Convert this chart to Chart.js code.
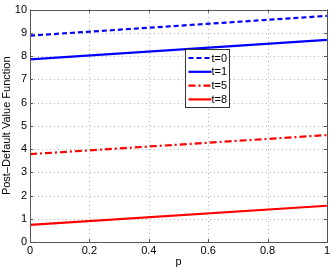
<!DOCTYPE html>
<html><head><meta charset="utf-8">
<script src="https://cdn.jsdelivr.net/npm/chart.js@4.4.1/dist/chart.umd.min.js"></script>
<style>html,body{margin:0;padding:0;background:#fff;}canvas{display:block;}</style>
</head><body>
<canvas id="c" width="332" height="269"></canvas>
<script>
const pValues = [0, 1];
const seriesNames = ['t=0', 't=1', 't=5', 't=8'];
const t0 = [8.88, 9.73];
const t1 = [7.86, 8.70];
const t5 = [3.78, 4.60];
const t8 = [0.74, 1.56];
const xTicks = [0, 0.2, 0.4, 0.6, 0.8, 1];
const yTicks = [0, 1, 2, 3, 4, 5, 6, 7, 8, 9, 10];

const FONT = "'Liberation Sans', Arial, sans-serif";
const toXY = arr => pValues.map((p, i) => ({x: p, y: arr[i]}));

const styles = [
  {color: '#0000ff', dash: [5, 3]},
  {color: '#0000ff', dash: []},
  {color: '#ff0000', dash: [7, 3, 2, 3]},
  {color: '#ff0000', dash: []}
];
const allData = [t0, t1, t5, t8];

const datasets = allData.map((d, i) => ({
  label: seriesNames[i],
  data: toXY(d),
  borderColor: styles[i].color,
  borderDash: styles[i].dash,
  borderWidth: 2.2,
  pointRadius: 0,
  fill: false,
  tension: 0
}));

const gridPlugin = {
  id: 'dottedGrid',
  beforeDatasetsDraw(chart) {
    const ctx = chart.ctx, a = chart.chartArea;
    const xs = chart.scales.x, ys = chart.scales.y;
    ctx.save();
    ctx.strokeStyle = '#b4b4b4';
    ctx.lineWidth = 1;
    ctx.setLineDash([1, 3]);
    ctx.beginPath();
    xTicks.forEach(v => {
      const x = Math.round(xs.getPixelForValue(v)) + 0.5;
      ctx.moveTo(x, a.bottom); ctx.lineTo(x, a.top);
    });
    yTicks.forEach(v => {
      const y = Math.round(ys.getPixelForValue(v)) + 0.5;
      ctx.moveTo(a.left, y); ctx.lineTo(a.right, y);
    });
    ctx.stroke();
    ctx.restore();
  }
};

const framePlugin = {
  id: 'frame',
  afterDraw(chart) {
    const ctx = chart.ctx, a = chart.chartArea;
    const xs = chart.scales.x, ys = chart.scales.y;
    ctx.save();
    ctx.strokeStyle = '#555';
    ctx.lineWidth = 1;
    ctx.setLineDash([]);
    ctx.strokeRect(Math.round(a.left) + 0.5, Math.round(a.top) + 0.5, Math.round(a.right - a.left), Math.round(a.bottom - a.top));
    ctx.beginPath();
    xTicks.forEach(v => {
      const x = Math.round(xs.getPixelForValue(v)) + 0.5;
      ctx.moveTo(x, a.bottom); ctx.lineTo(x, a.bottom - 3);
      ctx.moveTo(x, a.top); ctx.lineTo(x, a.top + 3);
    });
    yTicks.forEach(v => {
      const y = Math.round(ys.getPixelForValue(v)) + 0.5;
      ctx.moveTo(a.left, y); ctx.lineTo(a.left + 3, y);
      ctx.moveTo(a.right, y); ctx.lineTo(a.right - 3, y);
    });
    ctx.stroke();
    // legend
    const bx = 185.5, by = 49.5, bw = 44, bh = 58;
    ctx.fillStyle = '#fff';
    ctx.fillRect(bx, by, bw, bh);
    ctx.strokeStyle = '#333';
    ctx.strokeRect(bx, by, bw, bh);
    ctx.font = '11px ' + FONT;
    ctx.textBaseline = 'middle';
    datasets.forEach((ds, i) => {
      const y = by + 8.5 + i * 13.8;
      ctx.strokeStyle = ds.borderColor;
      ctx.lineWidth = 2.2;
      ctx.setLineDash(ds.borderDash);
      ctx.beginPath(); ctx.moveTo(bx + 3, y); ctx.lineTo(bx + 26, y); ctx.stroke();
      ctx.setLineDash([]);
      ctx.fillStyle = '#000';
      ctx.fillText(ds.label, bx + 26, y + 0.5);
    });
    ctx.restore();
  }
};

new Chart(document.getElementById('c'), {
  type: 'line',
  data: {datasets},
  options: {
    responsive: false,
    animation: false,
    layout: {padding: {left: 0, right: 5, top: 8, bottom: 0}},
    plugins: {legend: {display: false}, tooltip: {enabled: false}},
    scales: {
      x: {
        type: 'linear', min: 0, max: 1,
        afterBuildTicks: s => { s.ticks = xTicks.map(v => ({value: v})); },
        afterFit: s => { s.height = 27; },
        grid: {display: false, drawTicks: false, tickLength: 0},
        border: {display: false},
        ticks: {color: '#000', font: {family: FONT, size: 11}, padding: 2, maxRotation: 0,
          callback: v => String(v)},
        title: {display: true, text: 'p', color: '#000', font: {family: FONT, size: 11}, padding: {top: 0, bottom: 0}}
      },
      y: {
        type: 'linear', min: 0, max: 10,
        afterBuildTicks: s => { s.ticks = yTicks.map(v => ({value: v})); },
        afterFit: s => { s.width = 30; },
        grid: {display: false, drawTicks: false, tickLength: 0},
        border: {display: false},
        ticks: {color: '#000', font: {family: FONT, size: 11}, padding: 3},
        title: {display: true, text: 'Post\u2013Default Value Function', color: '#000', font: {family: FONT, size: 11}, padding: {top: 0, bottom: 2}}
      }
    }
  },
  plugins: [gridPlugin, framePlugin]
});
</script>
</body></html>
